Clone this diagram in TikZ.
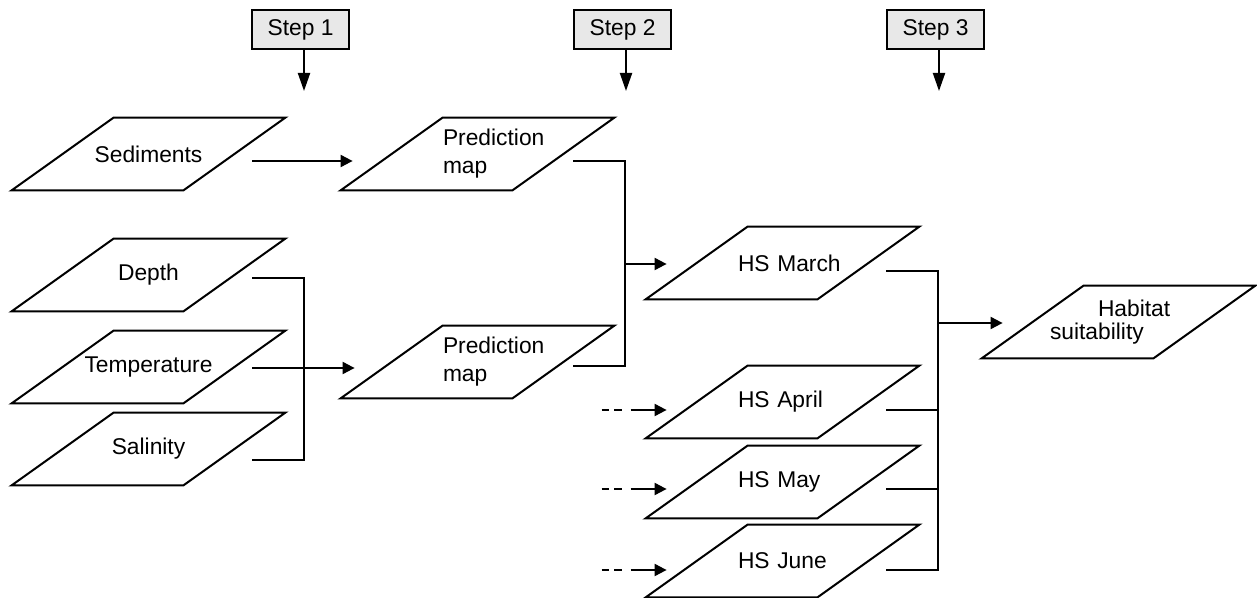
\documentclass[tikz,border=0pt]{standalone}
\usepackage{fontspec}
\setmainfont{Liberation Sans}
\usetikzlibrary{arrows.meta}
\begin{document}
\begin{tikzpicture}[x=0.5pt,y=-0.5pt,
  lw/.style={line width=1pt},
  txt/.style={font=\fontsize{11.4}{14}\selectfont},
  para/.style={txt, minimum width=136.5pt, minimum height=36pt, inner sep=0pt},
  predpara/.style={para, align=left, inner xsep=51pt, text width=34.5pt},
  hspara/.style={para, align=left, inner xsep=46pt, text width=44.5pt},
  habpara/.style={para, align=left, inner xsep=34pt, text width=68.5pt, font=\fontsize{11.4}{11.5}\selectfont},
  paraline/.style={lw, line join=miter},
  stepbox/.style={txt, draw, lw, fill=gray!18, minimum width=48.5pt, minimum height=19.5pt, inner sep=0pt},
  arr/.style={lw, -{Triangle[length=6pt,width=6pt]}},
  downarr/.style={lw, -{Triangle[length=9pt,width=6pt]}},
  dasharr/.style={arr, dash pattern=on 3.75pt off 2.5pt on 3.75pt off 4.5pt on 60pt},
  link/.style={lw}
]
\useasboundingbox (0,0) rectangle (1257,598);

% step boxes
\node[stepbox] (s1) at (300.5,29.5) {Step 1};
\node[stepbox] (s2) at (622.5,29.5) {Step 2};
\node[stepbox] (s3) at (935.5,29.5) {Step 3};
\foreach \s in {s1,s2,s3}
  \draw[downarr] ([xshift=1.75pt]\s.south) -- ++(0,41);

% input layers
\node[para] (sed) at (148.5,154) {Sediments};
\node[para] (dep) at (148.5,275) {Depth};
\node[para] (tem) at (148.5,367) {Temperature};
\node[para] (sal) at (148.5,449) {Salinity};

% prediction maps
\node[predpara] (p1) at (477.5,154) {\rlap{Prediction}\\\rlap{map}};
\node[predpara] (p2) at (477.5,362) {\rlap{Prediction}\\\rlap{map}};

% monthly habitat suitability
\node[hspara] (mar) at (782.5,263) {\rlap{HS March}};
\node[hspara] (apr) at (782.5,402) {\rlap{HS April}};
\node[hspara] (may) at (782.5,482) {\rlap{HS May}};
\node[hspara] (jun) at (782.5,561) {\rlap{HS June}};

% final
\node[habpara] (hab) at (1118.5,322) {\hspace*{24pt}Habitat\\suitability};

\foreach \n in {sed,dep,tem,sal,p1,p2,mar,apr,may,jun,hab}
  \draw[paraline] (\n.south west) -- ([xshift=51pt]\n.north west) -- (\n.north east) -- ([xshift=-51pt]\n.south east) -- cycle;

% connectors step 1
\draw[arr] ([shift={(-33,7)}]sed.east) -- ([shift={(12,7)}]p1.west);
\draw[link] ([shift={(-33,3)}]dep.east) -- ++(52,0) |- ([shift={(-33,11)}]sal.east);
\draw[arr] ([shift={(-33,1)}]tem.east) -- ([shift={(14,6)}]p2.west);

% connectors step 2
\coordinate (j1) at (625,264);
\draw[link] ([shift={(-41,7)}]p1.east) -- ++(52,0) |- ([shift={(-41,4)}]p2.east);
\draw[arr] (j1) -- ([shift={(21,1)}]mar.west);

% connectors step 3
\coordinate (j2) at (938,323);
\draw[link] ([shift={(-33,8)}]mar.east) -- ++(52,0) |- ([shift={(-33,9)}]jun.east);
\draw[link] ([shift={(-33,8)}]apr.east) -- ++(52,0);
\draw[link] ([shift={(-33,7)}]may.east) -- ++(52,0);
\draw[arr] (j2) -- ([shift={(21,1)}]hab.west);

% dashed inputs
\draw[dasharr] ([shift={(-44,8)}]apr.west) -- ([shift={(21,8)}]apr.west);
\draw[dasharr] ([shift={(-44,7)}]may.west) -- ([shift={(21,7)}]may.west);
\draw[dasharr] ([shift={(-44,9)}]jun.west) -- ([shift={(21,9)}]jun.west);
\end{tikzpicture}
\end{document}
